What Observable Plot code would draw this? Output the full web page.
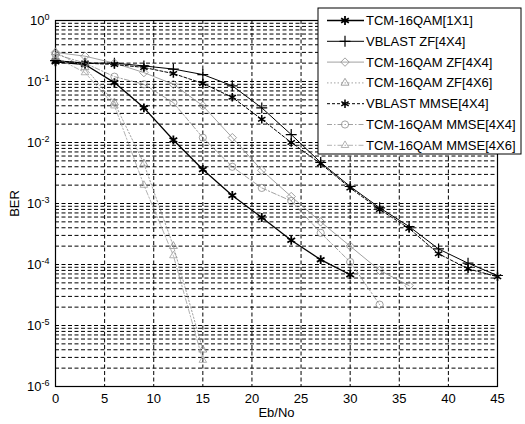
<!DOCTYPE html>
<html>
<head>
<meta charset="utf-8">
<script src="https://cdn.jsdelivr.net/npm/d3@7"></script>
<script src="https://cdn.jsdelivr.net/npm/@observablehq/plot@0.6"></script>
<style>
  html, body { margin: 0; padding: 0; background: #fff; }
  #chart { position: relative; width: 525px; height: 424px; }
</style>
</head>
<body>
<div id="chart"></div>
<script>
// ---- data ----
const ebno = [0, 3, 6, 9, 12, 15, 18, 21, 24, 27, 30, 33, 36, 39, 42, 45];
const berTcm1x1      = [0.21, 0.19, 0.096, 0.037, 0.011, 0.0036, 0.00135, 0.00059, 0.00025, 0.00012, 0.000068];
const berVblastZf    = [0.22, 0.2, 0.2, 0.18, 0.16, 0.13, 0.085, 0.037, 0.0135, 0.0047, 0.0019, 0.00085, 0.00042, 0.00018, 0.000105, 0.000066];
const berTcmZf4x4    = [0.3, 0.26, 0.2, 0.14, 0.09, 0.04, 0.012, 0.0035, 0.0013, 0.0005, 0.0002, 0.00008, 0.000045];
const berTcmZf4x6    = [0.3, 0.17, 0.045, 0.0045, 0.0002, 0.000004];
const berVblastMmse  = [0.22, 0.2, 0.19, 0.17, 0.135, 0.093, 0.055, 0.024, 0.010, 0.0045, 0.0018, 0.0008, 0.00039, 0.00015, 0.000085, 0.000063];
const berTcmMmse4x4  = [0.28, 0.2, 0.12, 0.09, 0.045, 0.012, 0.004, 0.0018, 0.0011, 0.00033, 0.00011, 0.000022];
const berTcmMmse4x6  = [0.25, 0.14, 0.04, 0.002, 0.00014, 0.0000027];

const seriesNames = ["TCM-16QAM[1X1]", "VBLAST ZF[4X4]", "TCM-16QAM ZF[4X4]", "TCM-16QAM ZF[4X6]",
                     "VBLAST MMSE[4X4]", "TCM-16QAM MMSE[4X4]", "TCM-16QAM MMSE[4X6]"];
const seriesValues = [berTcm1x1, berVblastZf, berTcmZf4x4, berTcmZf4x6, berVblastMmse, berTcmMmse4x4, berTcmMmse4x6];

const xTicks = [0, 5, 10, 15, 20, 25, 30, 35, 40, 45];
const yDecades = [1e-6, 1e-5, 1e-4, 1e-3, 1e-2, 1e-1, 1];

// ---- styles ----
const styles = [
  {stroke: "#000", width: 1.3, dash: null,      symbol: "asterisk", r: 4.2, sw: 1.8},
  {stroke: "#000", width: 1.0, dash: null,      symbol: "plus",     r: 3.6, sw: 1.2},
  {stroke: "#8a8a8a", width: 0.8, dash: null,   symbol: "diamond2", r: 3.8, sw: 0.8},
  {stroke: "#8a8a8a", width: 0.8, dash: "1.5,2", symbol: "triangle2", r: 3.8, sw: 0.8},
  {stroke: "#000", width: 1.0, dash: "3,2",     symbol: "asterisk", r: 4.0, sw: 1.5},
  {stroke: "#8a8a8a", width: 0.8, dash: "5,2,1.5,2", symbol: "circle", r: 3.6, sw: 0.8},
  {stroke: "#a0a0a0", width: 0.8, dash: "5,2,1.5,2", symbol: "triangle2", r: 3.6, sw: 0.8}
];

const rows = [];
seriesValues.forEach((vals, i) => vals.forEach((v, j) => rows.push({s: i, x: ebno[j], y: v})));

// grid values: major + minor on log axis
const yGrid = [];
for (let k = -6; k <= -1; k++) for (let m = 1; m <= 9; m++) yGrid.push(m * Math.pow(10, k));

const marks = [
  Plot.ruleY(yGrid, {y: d => d, stroke: "#000", strokeWidth: 1, strokeDasharray: "4,2.5"}),
  Plot.ruleX(xTicks.slice(1, -1), {x: d => d, stroke: "#000", strokeWidth: 1, strokeDasharray: "4,2.5"}),
  Plot.frame({stroke: "#000", strokeWidth: 1.2})
];
styles.forEach((st, i) => {
  const data = rows.filter(d => d.s === i);
  marks.push(Plot.line(data, {x: "x", y: "y", stroke: st.stroke, strokeWidth: st.width, strokeDasharray: st.dash}));
  marks.push(Plot.dot(data, {x: "x", y: "y", symbol: () => st.symbol, r: st.r, stroke: st.stroke, fill: "none", strokeWidth: st.sw}));
});
marks.push(
  Plot.axisX({ticks: xTicks, tickSize: 0, tickPadding: 7, label: "Eb/No", labelAnchor: "center", labelArrow: "none", labelOffset: 30}),
  Plot.axisY({ticks: yDecades, tickSize: 0, tickPadding: 6, tickFormat: d => "e" + Math.round(Math.log10(d)),
              label: "BER", labelAnchor: "center", labelArrow: "none", labelOffset: 46})
);

const chart = Plot.plot({
  width: 525, height: 424,
  marginLeft: 55, marginRight: 28, marginTop: 20, marginBottom: 38,
  x: {domain: [0, 45]},
  y: {type: "log", domain: [1e-6, 1]},
  style: {fontFamily: "'Liberation Sans', Arial, sans-serif", fontSize: "13px", color: "#000", background: "#fff"},
  marks
});

// superscript exponents for the y tick labels
d3.select(chart).selectAll("text").each(function() {
  const t = d3.select(this);
  const s = this.textContent;
  if (/^e-?\d+$/.test(s)) {
    t.text("10");
    t.append("tspan").attr("dy", "-0.55em").attr("font-size", "9px").text(s.slice(1));
  }
});

// legend drawn into the same SVG
const svg = d3.select(chart);
const lg = svg.append("g").attr("font-family", "'Liberation Sans', Arial, sans-serif")
  .attr("font-size", "13px").attr("text-anchor", "start");
const lx = 318, ly = 8, lw = 203, lh = 146;
lg.append("rect").attr("x", lx).attr("y", ly).attr("width", lw).attr("height", lh)
  .attr("fill", "#fff").attr("stroke", "#000").attr("stroke-width", 1);
const symMap = {asterisk: d3.symbolAsterisk, plus: d3.symbolPlus, diamond2: d3.symbolDiamond2,
                triangle2: d3.symbolTriangle2, circle: d3.symbolCircle};
seriesNames.forEach((name, i) => {
  const st = styles[i];
  const cy = ly + 12.5 + i * 20.8;
  lg.append("line").attr("x1", lx + 9).attr("x2", lx + 46).attr("y1", cy).attr("y2", cy)
    .attr("stroke", st.stroke).attr("stroke-width", st.width).attr("stroke-dasharray", st.dash);
  lg.append("path").attr("transform", `translate(${lx + 27},${cy})`)
    .attr("d", d3.symbol(symMap[st.symbol], st.r * st.r * Math.PI)())
    .attr("fill", "none").attr("stroke", st.stroke).attr("stroke-width", st.sw);
  lg.append("text").attr("x", lx + 48).attr("y", cy).attr("dy", "0.35em")
    .attr("text-anchor", "start").attr("fill", "#000").text(name);
});

document.getElementById("chart").appendChild(chart);
</script>
</body>
</html>
